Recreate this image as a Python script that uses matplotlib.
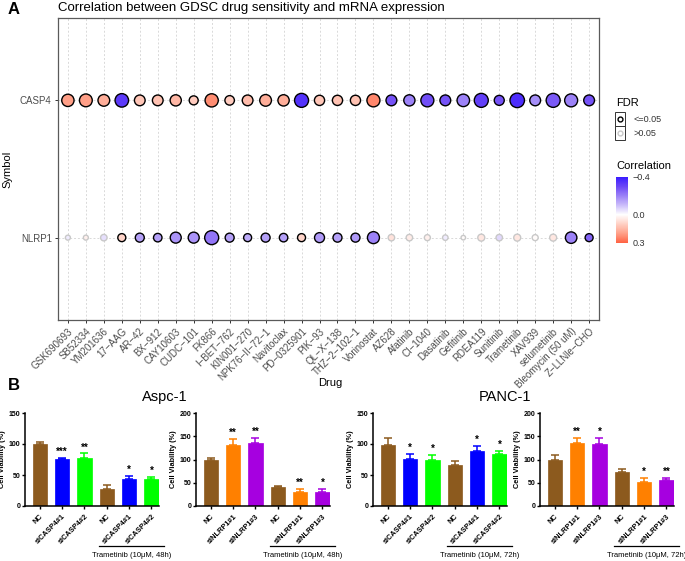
import numpy as np
import matplotlib
matplotlib.use('Agg')
import matplotlib.pyplot as plt
import matplotlib.transforms as mtransforms
from matplotlib.colors import LinearSegmentedColormap, Normalize
from matplotlib.patches import Rectangle
from matplotlib.cm import ScalarMappable

plt.rcParams['font.family'] = ['Liberation Sans', 'DejaVu Sans']

# ---------------- panel A data ----------------
drugs = ['GSK690693', 'SB52334', 'YM201636', '17\u2212AAG', 'AR\u221242', 'BX\u2212912',
         'CAY10603', 'CUDC\u2212101', 'FK866', 'I\u2212BET\u2212762', 'KIN001\u2212270',
         'NPK76\u2212II\u221272\u22121', 'Navitoclax', 'PD\u22120325901', 'PIK\u221293',
         'QL\u2212X\u2212138', 'THZ\u22122\u2212102\u22121', 'Vorinostat', 'AZ628', 'Afatinib',
         'CI\u22121040', 'Dasatinib', 'Gefitinib', 'RDEA119', 'Sunitinib', 'Trametinib',
         'XAV939', 'selumetinib', 'Bleomycin (50 uM)', 'Z\u2212LLNle\u2212CHO']
symbols = ['NLRP1', 'CASP4']

casp4_corr = [0.20, 0.20, 0.17, -0.33, 0.12, 0.13, 0.15, 0.11, 0.23, 0.11,
              0.14, 0.17, 0.17, -0.35, 0.12, 0.13, 0.13, 0.24, -0.28, -0.20,
              -0.29, -0.28, -0.20, -0.32, -0.28, -0.36, -0.18, -0.27, -0.20, -0.28]
casp4_logfdr = [8.3, 8.8, 7.7, 9.5, 6.7, 6.7, 7.2, 5.0, 9.2, 5.5,
                6.7, 7.7, 7.3, 10.0, 6.2, 6.2, 6.2, 9.0, 6.8, 7.2,
                9.0, 6.8, 8.5, 10.0, 6.0, 10.5, 6.8, 10.0, 9.0, 6.8]
casp4_sig = [1] * 30

nlrp1_corr = [-0.03, 0.03, -0.05, 0.09, -0.15, -0.15, -0.17, -0.17, -0.22, -0.15,
              -0.13, -0.15, -0.15, 0.09, -0.16, -0.15, -0.16, -0.20, 0.06, 0.04,
              0.03, -0.03, 0.01, 0.05, -0.06, 0.05, 0.01, 0.05, -0.20, -0.25]
nlrp1_logfdr = [1.0, 1.0, 2.5, 4.0, 5.0, 4.5, 7.0, 7.0, 10.0, 5.0,
                4.0, 5.0, 4.5, 4.0, 6.0, 5.0, 5.0, 8.0, 2.5, 2.5,
                2.0, 1.5, 0.5, 3.0, 2.5, 3.0, 2.0, 3.0, 7.5, 4.0]
nlrp1_sig = [0, 0, 0] + [1] * 15 + [0] * 10 + [1, 1]

# ---------------- panel B data ----------------
casp4_groups = ['NC', 'siCASP4#1', 'siCASP4#2', 'NC', 'siCASP4#1', 'siCASP4#2']
nlrp1_groups = ['NC', 'siNLRP1#1', 'siNLRP1#3', 'NC', 'siNLRP1#1', 'siNLRP1#3']

aspc_casp4_mean = [100, 76.5, 77.5, 27.5, 43.5, 43.5]
aspc_casp4_err = [4, 1.5, 7.5, 6.5, 4.5, 3.5]
aspc_casp4_stars = ['', '***', '**', '', '*', '*']

aspc_nlrp1_mean = [99, 132, 136, 41, 31, 30]
aspc_nlrp1_err = [5, 12, 11, 2, 5, 6]
aspc_nlrp1_stars = ['', '**', '**', '', '**', '*']

panc_casp4_mean = [99, 75.5, 73.5, 66, 88.5, 83.5]
panc_casp4_err = [11, 8, 9.5, 6, 8.5, 5]
panc_casp4_stars = ['', '*', '*', '', '*', '*']

panc_nlrp1_mean = [99, 136, 134, 74, 51, 56]
panc_nlrp1_err = [10, 10, 12, 6, 10, 5]
panc_nlrp1_stars = ['', '**', '*', '', '*', '**']

treat_48 = 'Trametinib (10\u03bcM, 48h)'
treat_72 = 'Trametinib (10\u03bcM, 72h)'

bar_colors = {'NC': '#8C5A1E', 'siCASP4#1': '#0000FF', 'siCASP4#2': '#00FF00',
              'siNLRP1#1': '#FF8000', 'siNLRP1#3': '#A600E0'}

W, H = 685, 561
fig = plt.figure(figsize=(W / 100, H / 100), dpi=100)


def px_rect(left, top, right, bottom):
    return [left / W, 1 - bottom / H, (right - left) / W, (bottom - top) / H]


cmap = LinearSegmentedColormap.from_list(
    'corr', [(0.0, '#3A1CFF'), (0.143, '#6C48F6'), (0.286, '#9C82F7'),
             (0.429, '#CCBEFA'), (0.571, '#FFFFFF'), (0.714, '#FFD0C4'),
             (0.857, '#FFA088'), (1.0, '#FF6243')])
norm = Normalize(vmin=-0.4, vmax=0.3)

# ---------------- panel A ----------------
axA = fig.add_axes(px_rect(58, 18, 599, 320))
xs = np.arange(1, len(drugs) + 1)
for xv in xs:
    axA.axvline(xv, color='#D9D9D9', lw=0.7, ls=(0, (2, 2)), zorder=0)
for yv in (1, 2):
    axA.axhline(yv, color='#D9D9D9', lw=0.7, ls=(0, (2, 2)), zorder=0)

for row, corr, lf, sig in ((2, casp4_corr, casp4_logfdr, casp4_sig),
                           (1, nlrp1_corr, nlrp1_logfdr, nlrp1_sig)):
    corr = np.array(corr)
    diam = 4 + np.array(lf)
    sig = np.array(sig, dtype=bool)
    sizes = (diam * 0.72) ** 2
    edge = np.where(sig, 'black', '#C8C8C8')
    axA.scatter(xs, np.full(len(xs), row), s=sizes, c=corr, cmap=cmap, norm=norm,
                edgecolors=list(edge), linewidths=1.0, zorder=3)

axA.set_xlim(0.45, 30.55)
axA.set_ylim(0.4, 2.6)
axA.set_xticks(xs)
axA.set_xticklabels(drugs, rotation=45, ha='right', va='top', rotation_mode='anchor',
                    fontsize=7, color='#4D4D4D')
axA.set_yticks([1, 2])
axA.set_yticklabels(symbols, fontsize=7, color='#4D4D4D')
axA.tick_params(length=2.5, width=0.7, color='#333333', pad=2)
for sp in axA.spines.values():
    sp.set_color('#5A5A5A')
    sp.set_linewidth(0.9)
axA.set_ylabel('Symbol', fontsize=8, labelpad=6)
axA.yaxis.set_label_coords(-0.085, 0.5)

fig.text(58 / W, 1 - 8 / H, 'Correlation between GDSC drug sensitivity and mRNA expression',
         fontsize=9.5, ha='left', va='center')
fig.text(8 / W, 1 - 9 / H, 'A', fontsize=12, fontweight='bold', ha='left', va='center')
fig.text(330 / W, 1 - 383 / H, 'Drug', fontsize=8, ha='center', va='center')

# FDR legend
fig.text(616 / W, 1 - 103 / H, 'FDR', fontsize=8, ha='left', va='center')
for i, (lab, ec) in enumerate((('<=0.05', 'black'), ('>0.05', '#C8C8C8'))):
    top = 112 + i * 14
    fig.patches.append(Rectangle((615 / W, 1 - (top + 14) / H), 10 / W, 14 / H,
                                 transform=fig.transFigure, fill=False,
                                 ec='#333333', lw=0.7))
    fig.lines.append(plt.Line2D([620 / W], [1 - (top + 7) / H], transform=fig.transFigure,
                                marker='o', ms=3.5, mfc='white', mec=ec, mew=1.0, ls=''))
    fig.text(633 / W, 1 - (top + 7) / H, lab, fontsize=6.5, color='#333333',
             ha='left', va='center')

fig.text(616 / W, 1 - 166 / H, 'Correlation', fontsize=8, ha='left', va='center')
cax = fig.add_axes(px_rect(616, 177, 628, 243))
cb = fig.colorbar(ScalarMappable(norm=norm, cmap=cmap), cax=cax)
cb.outline.set_visible(False)
cax.invert_yaxis()
cb.set_ticks([-0.4, 0.0, 0.3])
cb.set_ticklabels(['\u22120.4', '0.0', '0.3'])
cax.tick_params(length=0, labelsize=6.5, labelcolor='#333333', pad=3)

# ---------------- panel B ----------------
fig.text(8 / W, 1 - 386 / H, 'B', fontsize=12, fontweight='bold', ha='left', va='center')
fig.text(165 / W, 1 - 397 / H, 'Aspc-1', fontsize=10.5, ha='center', va='center')
fig.text(505 / W, 1 - 397 / H, 'PANC-1', fontsize=10.5, ha='center', va='center')

panels = [
    (25, casp4_groups, aspc_casp4_mean, aspc_casp4_err, aspc_casp4_stars, 150, treat_48),
    (196, nlrp1_groups, aspc_nlrp1_mean, aspc_nlrp1_err, aspc_nlrp1_stars, 200, treat_48),
    (373, casp4_groups, panc_casp4_mean, panc_casp4_err, panc_casp4_stars, 150, treat_72),
    (540, nlrp1_groups, panc_nlrp1_mean, panc_nlrp1_err, panc_nlrp1_stars, 200, treat_72),
]

for left, groups, means, errs, stars, ymax, treat in panels:
    ax = fig.add_axes(px_rect(left, 413, left + 134, 506))
    x = np.arange(len(groups))
    cols = [bar_colors[g] for g in groups]
    ax.bar(x, means, width=0.64, color=cols, edgecolor=cols, linewidth=0.5, zorder=2)
    for xi, m, e, c, st in zip(x, means, errs, cols, stars):
        ax.errorbar(xi, m, yerr=[[0], [e]], fmt='none', ecolor=c, elinewidth=1.1,
                    capsize=3, capthick=1.1, zorder=1)
        if st:
            ax.text(xi, m + e + ymax * 0.01, st, ha='center', va='bottom',
                    fontsize=7, fontweight='bold')
    ax.set_xlim(-0.66, 5.34)
    ax.set_ylim(0, ymax)
    ax.set_yticks(np.arange(0, ymax + 1, 50))
    for lab in ax.set_yticklabels([str(v) for v in np.arange(0, ymax + 1, 50)]):
        lab.set_fontweight('bold')
    ax.set_xticks(x)
    ax.set_xticklabels(groups, rotation=45, ha='right', va='top', rotation_mode='anchor',
                       fontsize=5.3, fontweight='bold')
    ax.tick_params(axis='both', length=2.5, width=1.0, labelsize=5.0, pad=1)
    ax.tick_params(axis='x', pad=2.5, labelsize=5.3)
    for s in ('top', 'right'):
        ax.spines[s].set_visible(False)
    for s in ('left', 'bottom'):
        ax.spines[s].set_linewidth(1.1)
    ax.set_ylabel('Cell Viability (%)', fontsize=5.3, fontweight='bold')
    ax.yaxis.set_label_coords(-0.145, 0.5)
    trans = mtransforms.blended_transform_factory(ax.transData, ax.transAxes)
    ax.plot([2.65, 5.55], [-0.43, -0.43], transform=trans, color='black', lw=0.9,
            clip_on=False)
    ax.text(4.1, -0.53, treat, transform=trans, ha='center', va='center', fontsize=5.5)

fig.savefig('out.png', dpi=100)
